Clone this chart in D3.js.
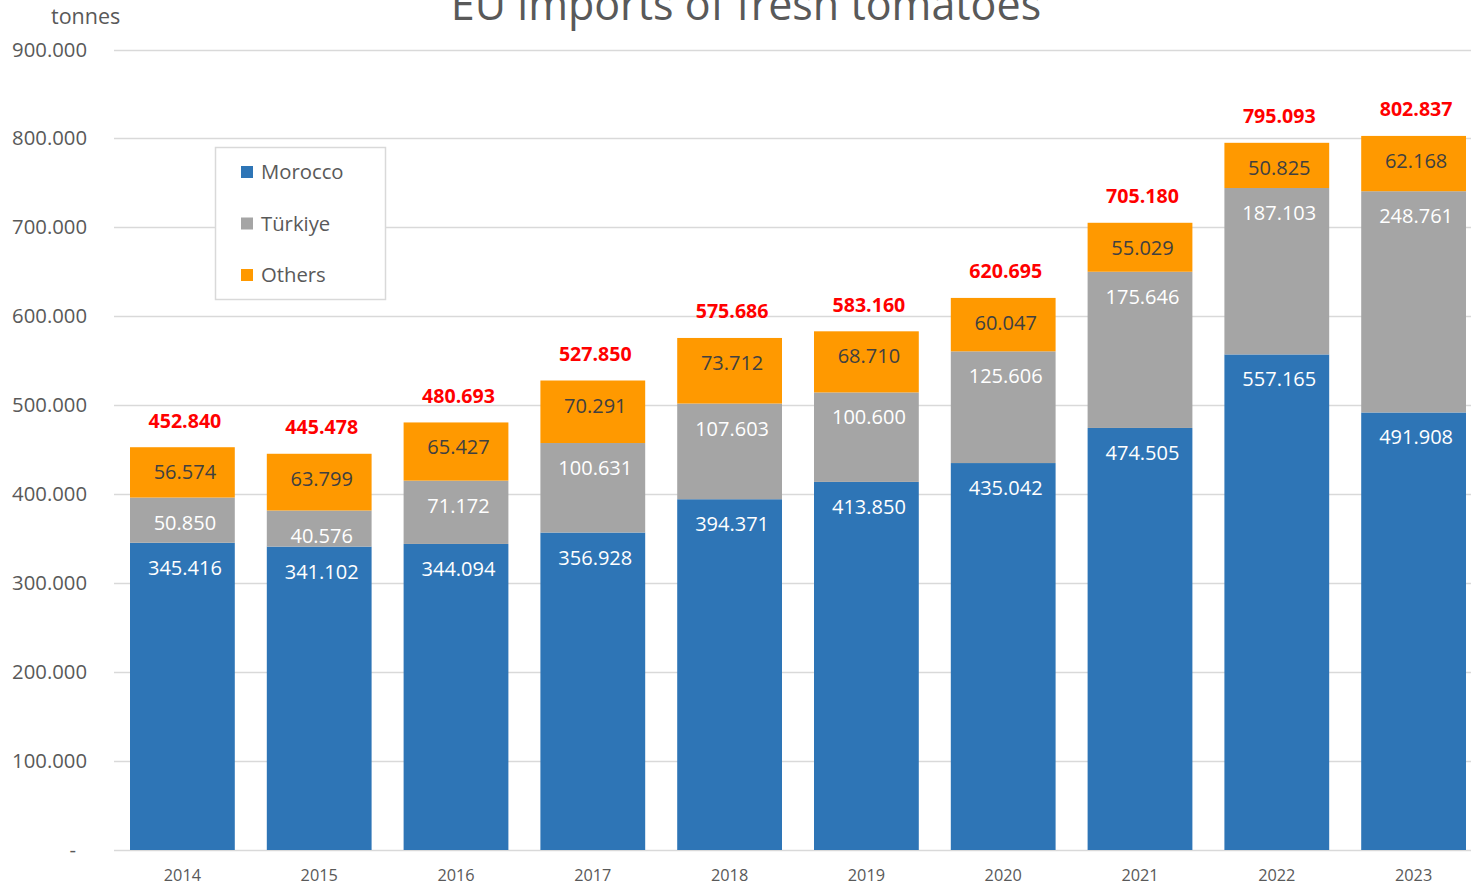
<!DOCTYPE html>
<html><head><meta charset="utf-8">
<script src="https://cdn.jsdelivr.net/npm/d3@7"></script>
<style>html,body{margin:0;padding:0;background:#fff;overflow:hidden}svg{display:block}</style>
</head><body>
<svg id="c" width="1471" height="887"></svg>
<script>
const years = ["2014","2015","2016","2017","2018","2019","2020","2021","2022","2023"];
const morocco = [345416,341102,344094,356928,394371,413850,435042,474505,557165,491908];
const turkiye = [50850,40576,71172,100631,107603,100600,125606,175646,187103,248761];
const others  = [56574,63799,65427,70291,73712,68710,60047,55029,50825,62168];
const totals  = [452840,445478,480693,527850,575686,583160,620695,705180,795093,802837];
const seriesNames = ["Morocco","Türkiye","Others"];
const yTicks = [0,100000,200000,300000,400000,500000,600000,700000,800000,900000];

const colors = {"Morocco":"#2E75B6","Türkiye":"#A5A5A5","Others":"#FF9900"};
const labelColors = {"Morocco":"#ffffff","Türkiye":"#ffffff","Others":"#404040"};
const FONT = "'Open Sans', Lato, sans-serif";

const loc = d3.formatLocale({decimal:",",thousands:".",grouping:[3],currency:["",""]});
const fmt = loc.format(",d");

const svg = d3.select("#c");
const x = d3.scaleBand().domain(years).range([114,1482]).paddingInner(0.234).paddingOuter(0.117);
const y = d3.scaleLinear().domain([0,900000]).range([850,49.5]);

const table = years.map((yr,i)=>({year:yr,"Morocco":morocco[i],"Türkiye":turkiye[i],"Others":others[i],total:totals[i]}));
const stacked = d3.stack().keys(seriesNames)(table);

// gridlines
const grid = svg.append("g");
grid.selectAll("line").data(yTicks).join("line")
  .attr("x1",114).attr("x2",1471)
  .attr("y1",d=>Math.round(y(d))+0.5).attr("y2",d=>Math.round(y(d))+0.5)
  .attr("stroke","#d9d9d9").attr("stroke-width",1.3);

// y axis labels
const yAxis = d3.axisLeft(y).tickValues(yTicks).tickSize(0).tickPadding(0)
  .tickFormat(d=>d===0?"-":fmt(d));
const ya = svg.append("g").attr("transform","translate(87,0)").call(yAxis);
ya.select(".domain").remove();
ya.selectAll("text").attr("font-family",FONT).attr("font-size","20.3px").attr("fill","#595959");
ya.selectAll(".tick").filter(d=>d===0).select("text").attr("dx",-11);

// x axis labels
const xAxis = d3.axisBottom(x).tickSize(0).tickPadding(0);
const xa = svg.append("g").attr("transform","translate(0,869)").call(xAxis);
xa.select(".domain").remove();
xa.selectAll("text").attr("font-family",FONT).attr("font-size","16.3px").attr("fill","#595959");

// bars
const layers = svg.append("g").selectAll("g").data(stacked).join("g")
  .attr("fill",d=>colors[d.key]);
layers.selectAll("rect").data(d=>d).join("rect")
  .attr("x",d=>x(d.data.year)).attr("width",x.bandwidth())
  .attr("y",d=>y(d[1])).attr("height",d=>y(d[0])-y(d[1]));

// segment labels
const lab = svg.append("g");
stacked.forEach(s=>{
  lab.selectAll(null).data(s).join("text")
    .attr("x",d=>x(d.data.year)+x.bandwidth()/2+2.5)
    .attr("y",d=>y(d[1])+32)
    .attr("text-anchor","middle")
    .attr("font-family",FONT).attr("font-size","20px")
    .attr("fill",labelColors[s.key])
    .text(d=>fmt(d.data[s.key]));
});

// totals
svg.append("g").selectAll("text").data(table).join("text")
  .attr("x",d=>x(d.year)+x.bandwidth()/2+2.5)
  .attr("y",(d,i)=>y(stacked[2][i][1])-19.5)
  .attr("text-anchor","middle")
  .attr("font-family",FONT).attr("font-size","19.6px").attr("font-weight","bold")
  .attr("fill","#FF0000")
  .text(d=>fmt(d.total));

// unit label
svg.append("text").attr("x",51).attr("y",24).attr("font-family",FONT)
  .attr("font-size","21.5px").attr("fill","#595959").text("tonnes");

// title (partly above the top edge, as in the reference)
svg.append("text").attr("x",746).attr("y",20).attr("text-anchor","middle")
  .attr("font-family",FONT).attr("font-size","43px").attr("fill","#595959")
  .text("EU imports of fresh tomatoes");

// legend
const lg = svg.append("g");
lg.append("rect").attr("x",215.5).attr("y",147.5).attr("width",170).attr("height",152)
  .attr("fill","#fff").attr("stroke","#d9d9d9").attr("stroke-width",1.5);
const ly = d3.scalePoint().domain(seriesNames).range([172,275]);
seriesNames.forEach(n=>{
  lg.append("rect").attr("x",241).attr("y",ly(n)-6).attr("width",12).attr("height",12).attr("fill",colors[n]);
  lg.append("text").attr("x",261).attr("y",ly(n)+7).attr("font-family",FONT)
    .attr("font-size","20.3px").attr("fill","#595959").text(n);
});
</script>
</body></html>
